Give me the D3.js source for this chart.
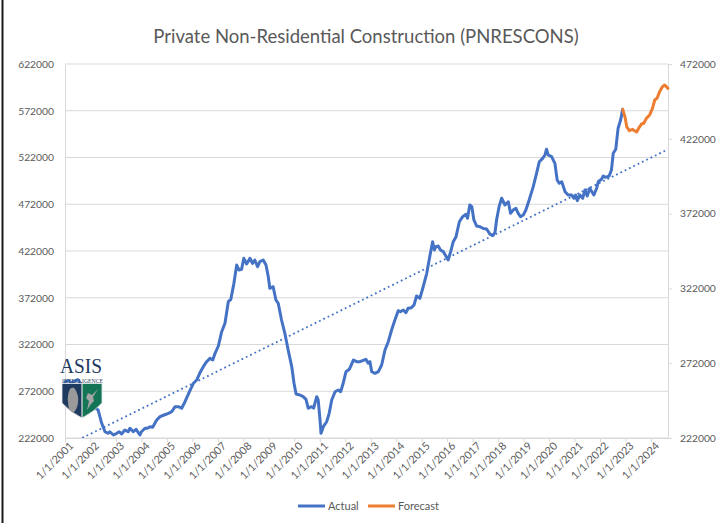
<!DOCTYPE html>
<html>
<head>
<meta charset="utf-8">
<script src="https://cdn.jsdelivr.net/npm/d3@7"></script>
<style>
  html, body { margin: 0; padding: 0; background: #fff; }
  svg { display: block; }
  text { font-family: Lato, "Open Sans", sans-serif; fill: #595959; }
</style>
</head>
<body>
<svg id="chart" width="716" height="523"></svg>
<script>
// ---------- DATA ----------
const chartTitle = "Private Non-Residential Construction (PNRESCONS)";
const yearTicks = d3.range(2001, 2025);            // category labels 1/1/2001 ... 1/1/2024
const leftTicks = [222000, 272000, 322000, 372000, 422000, 472000, 522000, 572000, 622000];
const rightTicks = [222000, 272000, 322000, 372000, 422000, 472000];

const actualDates = [
  2001.00, 2001.12, 2001.25, 2001.40, 2001.50, 2001.65, 2001.80, 2001.95,
  2002.11, 2002.30, 2002.37, 2002.44, 2002.57, 2002.70, 2002.76, 2002.90,
  2003.03, 2003.13, 2003.22, 2003.35, 2003.48, 2003.55, 2003.68, 2003.79, 2003.94,
  2004.00, 2004.14, 2004.23, 2004.34, 2004.44, 2004.60, 2004.73, 2004.89,
  2005.06, 2005.19, 2005.32, 2005.45, 2005.58, 2005.71, 2005.90,
  2006.04, 2006.17, 2006.30, 2006.43, 2006.56, 2006.69, 2006.80, 2006.89,
  2007.02, 2007.15, 2007.28, 2007.41, 2007.51, 2007.63, 2007.74, 2007.83, 2007.93,
  2008.02, 2008.13, 2008.26, 2008.36, 2008.45, 2008.56, 2008.65, 2008.78, 2008.89, 2008.98,
  2009.04, 2009.17, 2009.28, 2009.37, 2009.50, 2009.63, 2009.76, 2009.90, 2009.99,
  2010.07, 2010.22, 2010.35, 2010.46, 2010.55, 2010.68, 2010.76, 2010.88, 2010.94,
  2011.01, 2011.05, 2011.14, 2011.27, 2011.37, 2011.47, 2011.60, 2011.73, 2011.82, 2011.92,
  2012.03, 2012.16, 2012.32, 2012.45, 2012.58, 2012.68, 2012.81, 2012.90, 2012.97,
  2013.04, 2013.17, 2013.30, 2013.43, 2013.56, 2013.69, 2013.82, 2013.95,
  2014.08, 2014.17, 2014.28, 2014.38, 2014.47, 2014.60, 2014.70, 2014.80, 2014.93,
  2015.06, 2015.20, 2015.33, 2015.43, 2015.50, 2015.56, 2015.65, 2015.74, 2015.85, 2015.95,
  2016.04, 2016.14, 2016.24, 2016.35, 2016.48, 2016.61, 2016.74, 2016.80, 2016.89, 2016.97,
  2017.05, 2017.16, 2017.29, 2017.42, 2017.55, 2017.68, 2017.80, 2017.88, 2017.94,
  2018.04, 2018.14, 2018.27, 2018.40, 2018.49, 2018.59, 2018.70, 2018.79, 2018.88, 2018.99,
  2019.09, 2019.22, 2019.38, 2019.51, 2019.62, 2019.75, 2019.84, 2019.90, 2019.97,
  2020.10, 2020.23, 2020.32, 2020.40, 2020.50, 2020.63, 2020.75, 2020.88, 2020.98,
  2021.05, 2021.11, 2021.21, 2021.32, 2021.41, 2021.50, 2021.60, 2021.76, 2021.87, 2021.93,
  2022.06, 2022.13, 2022.23, 2022.36, 2022.45, 2022.52, 2022.62, 2022.71, 2022.81, 2022.89
];
const actualValues = [
  282000, 283500, 281000, 283000, 284500, 279000, 268000, 259000,
  255500, 252000, 244800, 237700, 228700, 227000, 228700, 225200,
  227000, 228700, 226300, 230500, 228700, 232400, 228700, 231300, 225200,
  228700, 232400, 232400, 234100, 233500, 241300, 244800, 246600,
  248400, 250100, 255500, 255500, 253800, 260800, 272500,
  280500, 284000, 292000, 298300, 303600, 307200, 305400, 312600,
  320400, 335700, 344700, 367800, 370300, 387400, 407000, 401700, 402400,
  414200, 408100, 414200, 408800, 412400, 405200, 410600, 412400, 407000, 394500,
  382100, 383800, 369600, 366100, 348200, 334000, 316100, 298300, 280500,
  269100, 268000, 266200, 263400, 253800, 255500, 254000, 266200, 262600,
  241300, 227000, 234100, 239400, 248400, 262600, 271500, 273300, 271500, 280500,
  292900, 295500, 305400, 303600, 303600, 304700, 306200, 301900, 303600,
  292900, 291200, 292900, 300100, 316100, 325000, 337500, 348200,
  358100, 357100, 358900, 356000, 360700, 361400, 364200, 373900, 371400,
  383800, 398100, 417700, 431900, 423100, 426600, 427300, 423100, 421300, 416700,
  412400, 421300, 431900, 437300, 453300, 458700, 461200, 457000, 471200, 469400,
  455200, 448700, 448000, 446000, 445500, 440000, 438500, 442000, 455200,
  469400, 478400, 471200, 474700, 462300, 465800, 467600, 462300, 458700, 460500,
  465800, 476500, 490800, 505100, 517500, 521100, 524700, 530800, 524700,
  522900, 515800, 497900, 494400, 496100, 485400, 481900, 481900, 478400,
  481900, 475800, 481900, 478400, 487200, 480800, 489100, 481900, 489100, 496100,
  498700, 502200, 500800, 502200, 508600, 526500, 530800, 553200, 562100, 573500
];
const forecastDates = [
  2022.89, 2022.98, 2023.05, 2023.15, 2023.28, 2023.37, 2023.44, 2023.54, 2023.63, 2023.72,
  2023.82, 2023.95, 2024.06, 2024.15, 2024.24, 2024.34, 2024.45, 2024.54, 2024.67
];
const forecastValues = [
  573500, 565600, 554900, 550700, 552100, 550300, 549300, 554300, 557800, 558600,
  563900, 567500, 574600, 583500, 585300, 592400, 597700, 599500, 596000
];
const trendDates = [2001.00, 2024.67];
const trendValues = [213000, 530800];

// ---------- LAYOUT ----------
const svg = d3.select("#chart");
const W = 716, H = 523;
const plot = { left: 65, right: 668, top: 64, bottom: 438 };

const x = d3.scaleLinear().domain([2001, 2024.67]).range([plot.left, plot.right]);
const yL = d3.scaleLinear().domain([222000, 622000]).range([plot.bottom, plot.top]);
const yR = d3.scaleLinear().domain([222000, 472000]).range([plot.bottom, plot.top]);

svg.append("rect").attr("width", W).attr("height", H).attr("fill", "#fff");
// chart frame (left edge)
svg.append("line").attr("x1", 2.5).attr("x2", 2.5).attr("y1", 0).attr("y2", H)
  .attr("stroke", "#1a1a1a").attr("stroke-width", 2);

// Title
svg.append("text").attr("x", 366).attr("y", 43).attr("text-anchor", "middle")
  .style("font-size", "18.5px").style("fill", "#595959").text(chartTitle);

// Gridlines
svg.append("g").selectAll("line").data(leftTicks).join("line")
  .attr("x1", plot.left).attr("x2", plot.right)
  .attr("y1", d => yL(d)).attr("y2", d => yL(d))
  .attr("stroke", "#d9d9d9").attr("stroke-width", 1);

const axisFont = "10.3px";

// Left axis
const gL = svg.append("g").attr("transform", `translate(${plot.left},0)`)
  .call(d3.axisLeft(yL).tickValues(leftTicks).tickSize(0).tickPadding(11).tickFormat(d3.format("d")));
gL.select(".domain").attr("stroke", "#d9d9d9");
gL.selectAll("text").style("font-size", axisFont).style("fill", "#595959").style("font-family", "Lato, sans-serif");

// Right axis
const gR = svg.append("g").attr("transform", `translate(${plot.right},0)`)
  .call(d3.axisRight(yR).tickValues(rightTicks).tickSize(4).tickPadding(8).tickFormat(d3.format("d")));
gR.select(".domain").attr("stroke", "#d9d9d9");
gR.selectAll(".tick line").attr("stroke", "#d9d9d9");
gR.selectAll("text").style("font-size", axisFont).style("fill", "#595959").style("font-family", "Lato, sans-serif");

// Bottom axis
const gB = svg.append("g").attr("transform", `translate(0,${plot.bottom})`)
  .call(d3.axisBottom(x).tickValues(yearTicks).tickSize(4).tickSizeOuter(0).tickFormat(d => "1/1/" + d));
gB.select(".domain").attr("stroke", "#d9d9d9");
gB.selectAll(".tick line").attr("stroke", "#d9d9d9");
gB.selectAll("text")
  .style("font-size", "10.8px").style("fill", "#595959").style("font-family", "Lato, sans-serif")
  .attr("text-anchor", "end")
  .attr("transform", "translate(4,4) rotate(-45)")
  .attr("dy", "0.6em").attr("y", 0).attr("x", 0);

// clip
svg.append("clipPath").attr("id", "clip").append("rect")
  .attr("x", plot.left).attr("y", plot.top)
  .attr("width", plot.right - plot.left).attr("height", plot.bottom - plot.top);

const lineL = d3.line().x(d => x(d[0])).y(d => yL(d[1]));

// Trendline (dotted)
svg.append("path").attr("clip-path", "url(#clip)")
  .datum(d3.zip(trendDates, trendValues))
  .attr("d", lineL).attr("fill", "none")
  .attr("stroke", "#4472c4").attr("stroke-width", 1.8)
  .attr("stroke-dasharray", "1.8,3").attr("stroke-linecap", "butt");

// Actual
svg.append("path").datum(d3.zip(actualDates, actualValues))
  .attr("d", lineL).attr("fill", "none")
  .attr("stroke", "#4472c4").attr("stroke-width", 3)
  .attr("stroke-linejoin", "round").attr("stroke-linecap", "round");

// Forecast
svg.append("path").datum(d3.zip(forecastDates, forecastValues))
  .attr("d", lineL).attr("fill", "none")
  .attr("stroke", "#ed7d31").attr("stroke-width", 3)
  .attr("stroke-linejoin", "round").attr("stroke-linecap", "round");

// Legend
const legend = svg.append("g").attr("transform", "translate(0,506)");
[["Actual", "#4472c4", 298], ["Forecast", "#ed7d31", 368]].forEach(([name, color, lx]) => {
  legend.append("line").attr("x1", lx).attr("x2", lx + 27).attr("y1", 0).attr("y2", 0)
    .attr("stroke", color).attr("stroke-width", 3);
  legend.append("text").attr("x", lx + 30).attr("y", 0).attr("dy", "0.35em")
    .style("font-size", "11px").style("fill", "#595959").text(name);
});

// Logo (ASIS Intelligence)
const logo = svg.append("g");
logo.append("text").attr("x", 60).attr("y", 373).attr("textLength", 42).attr("lengthAdjust", "spacingAndGlyphs")
  .style("font-family", "'Liberation Serif', serif").style("font-size", "20px").style("fill", "#1e3a60").text("ASIS");
logo.append("text").attr("x", 62).attr("y", 382.5).attr("textLength", 41).attr("lengthAdjust", "spacingAndGlyphs")
  .style("font-family", "'Liberation Serif', serif").style("font-size", "5.5px").style("fill", "#1e3a60").text("INTELLIGENCE");
const shieldLeft = "M62,383.5 L82,383.5 L82,418 Q70,412 62,403 Z";
const shieldRight = "M82,383.5 L102,383.5 L102,403 Q94,412 82,418 Z";
logo.append("path").attr("d", shieldLeft).attr("fill", "#1e3a5f");
logo.append("path").attr("d", shieldRight).attr("fill", "#137556");
logo.append("line").attr("x1", 82).attr("x2", 82).attr("y1", 383.5).attr("y2", 418).attr("stroke", "#fff").attr("stroke-width", 1);
logo.append("path").attr("d", "M62,383.5 L102,383.5 L102,403 Q94,412 82,418 Q70,412 62,403 Z")
  .attr("fill", "none").attr("stroke", "#e8e8e8").attr("stroke-width", 0.8);
// silhouettes
logo.append("path").attr("d", "M70,389 Q73,386 75,389 Q79,395 78,403 Q77,410 73,413 Q68,410 68,402 Q67,395 70,389 Z")
  .attr("fill", "#9a9a9a");
logo.append("path").attr("d", "M98,389 L92,395 L88,393 L86,398 L89,401 L87,410 L91,404 L94,401 L93,397 Z")
  .attr("fill", "#a5a5a5");
</script>
</body>
</html>
